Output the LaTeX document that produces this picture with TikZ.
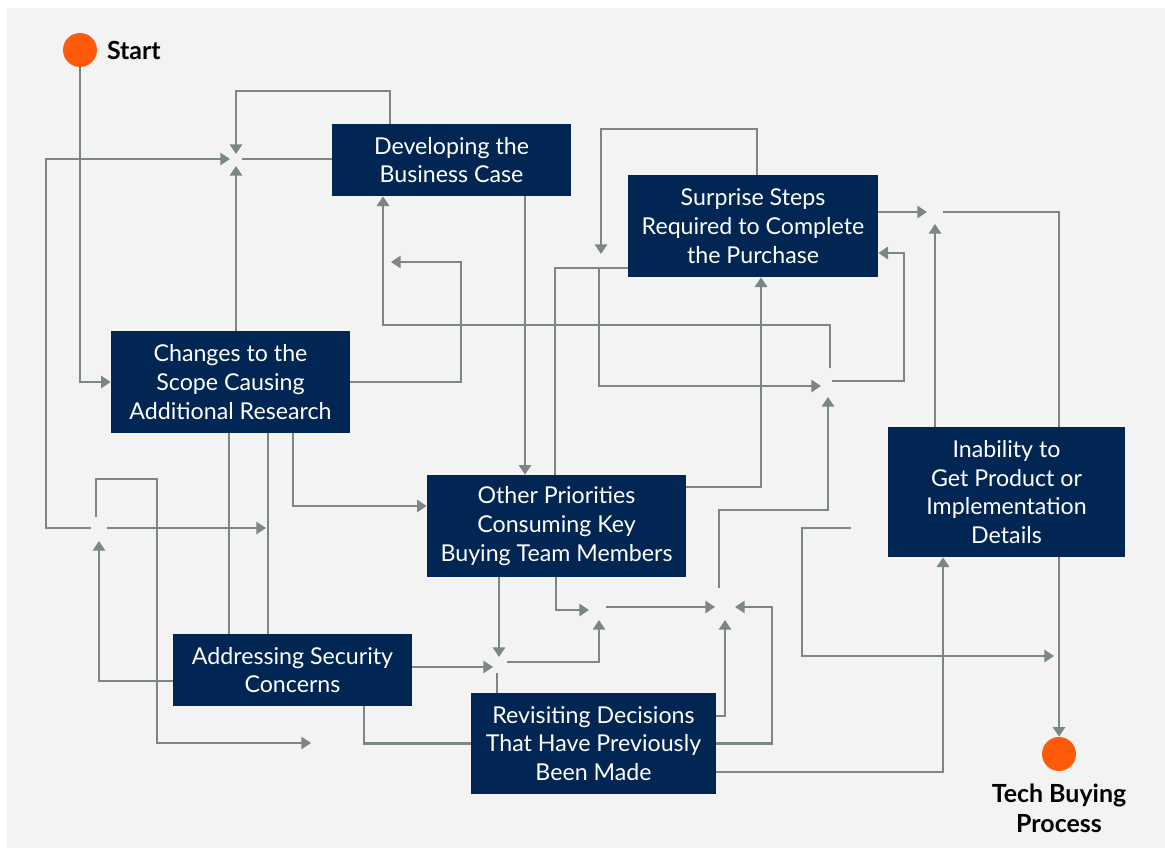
\documentclass[tikz,border=0pt]{standalone}
\usepackage{fontspec}
\setmainfont{Lato}
\usetikzlibrary{arrows.meta,positioning}
\definecolor{navy}{HTML}{012654}
\definecolor{wire}{HTML}{7B8685}
\definecolor{dot}{HTML}{FF5A0A}
\definecolor{paper}{HTML}{F3F3F3}
\begin{document}
\begin{tikzpicture}[x=0.02cm, y=-0.02cm,
  box/.style={fill=navy, text=white, align=center, inner sep=0pt,
    font=\fontsize{13.2}{16.4}\selectfont},
  link/.style={draw=wire, line width=1.2pt},
  flow/.style={link, -{Triangle[length=5.5pt,width=7pt]}},
  dotc/.style={circle, fill=dot, minimum size=0.68cm, inner sep=0pt},
  lbl/.style={font=\fontsize{14.2}{17}\selectfont\bfseries, align=center}]
\useasboundingbox (0,0) rectangle (1165,848);
\fill[white] (0,0) rectangle (1165,848);
\fill[paper] (7,8) rectangle (1165,848);
% Start and end
\node[dotc] (start) at (80,50) {};
\node[lbl, right=2pt of start] (startlbl) {Start};
\node[dotc] (endc) at (1059,754) {};
\node[lbl, below=3.5pt of endc] (endlbl) {Tech Buying\\Process};
% Boxes
\node[box, minimum width=4.78cm, minimum height=1.44cm] (dev) at (451.5,160) {Developing the\\Business Case};
\node[box, minimum width=5cm, minimum height=2.04cm] (surp) at (753,226) {Surprise Steps\\Required to Complete\\the Purchase};
\node[box, minimum width=4.78cm, minimum height=2.04cm] (chg) at (230.5,382) {Changes to the\\Scope Causing\\Additional Research};
\node[box, minimum width=5.18cm, minimum height=2.04cm] (oth) at (556.5,526) {Other Priorities\\Consuming Key\\Buying Team Members};
\node[box, minimum width=4.74cm, minimum height=2.6cm] (inab) at (1006.5,492) {Inability to\\Get Product or\\Implementation\\Details};
\node[box, minimum width=4.78cm, minimum height=1.44cm] (addr) at (292.5,670) {Addressing Security\\Concerns};
\node[box, minimum width=4.9cm, minimum height=2.02cm] (rev) at (593.5,743.5) {Revisiting Decisions\\That Have Previously\\Been Made};
% Crossings
\coordinate (jA) at (236,159);
\coordinate (jB) at (98,528);
\coordinate (jC) at (826,384);
\coordinate (jD) at (935,212);
\coordinate (jE) at (498,663);
\coordinate (jF) at (598,608);
\coordinate (jG) at (723,607);
% Loose ends
\coordinate (tipA) at (391,262);
\coordinate (tipB) at (601,254);
\coordinate (fork) at (599,268);
\coordinate (tipC) at (1054,656);
\coordinate (freeS) at (851,528);
\coordinate (tipD) at (311,743);
\coordinate (tipE) at (266,528);
% Upper part
\draw[flow] (start.south) |- (chg.west);
\draw[flow] (390,0 |- dev.north) |- (236,91) -- ([shift={(0,-5)}]jA);
\draw[flow] ([shift={(-7,0)}]jB) -| (46,159) -- ([shift={(-6,0)}]jA);
\draw[flow] (jA |- chg.north) -- ([shift={(0,7)}]jA);
\draw[link] ([shift={(6,0)}]jA) -- (dev.west |- jA);
\draw[flow] ([shift={(4,-16)}]jC) |- (383,325) -- (383,0 |- dev.south);
\draw[flow] (chg.east) -| (461,262) -- (tipA);
\draw[flow] (525,0 |- dev.south) -- (525,0 |- oth.north);
\draw[link] (555,0 |- oth.north) |- (surp.west |- fork);
\draw[flow] (757,0 |- surp.north) |- (601,129) -- (tipB);
\draw[flow] (fork) |- ([shift={(-5,2)}]jC);
\draw[flow] ([shift={(6,-3)}]jC) -| (904,253) -- (surp.east |- 904,253);
\draw[flow] (surp.east |- jD) -- ([shift={(-8,0)}]jD);
\draw[flow] (jD |- inab.north) -- ([shift={(0,12)}]jD);
\draw[link] ([shift={(8,0)}]jD) -| (1059,0 |- inab.north);
\draw[flow] (1059,0 |- inab.south) -- (endc.north);
\draw[flow] (oth.east |- 0,487) -| (761,0 |- surp.south);
\draw[flow] ([shift={(-4,-19)}]jG) |- (828,510) -- ([shift={(2,13)}]jC);
% Lower part
\draw[flow] (499,0 |- oth.south) -- ([shift={(1,-6)}]jE);
\draw[flow] (addr.east |- 0,667) -- ([shift={(-5,4)}]jE);
\draw[flow] ([shift={(9,-1)}]jE) -| ([shift={(1,12)}]jF);
\draw[link] ([shift={(-1,10)}]jE) -- (497,0 |- rev.north);
\draw[flow] (556,0 |- oth.south) |- ([shift={(-9,2)}]jF);
\draw[flow] ([shift={(8,-1)}]jF) -- ([shift={(-8,0)}]jG);
\draw[flow] (rev.east |- 0,716) -| ([shift={(2,13)}]jG);
\draw[flow] (rev.east) -| (772,607) -- ([shift={(12,0)}]jG);
\draw[flow] (rev.east |- 0,772) -| (943,0 |- inab.south);
\draw[flow] (freeS) -| (802,656) -- (tipC);
\draw[link] (364,0 |- addr.south) |- (rev.west);
\draw[flow] (addr.west |- 0,681) -| ([shift={(1,13)}]jB);
\draw[flow] ([shift={(-2,-11)}]jB) |- (157,479) |- (tipD);
\draw[flow] ([shift={(9,0)}]jB) -- (tipE);
\draw[link] (229,0 |- chg.south) -- (229,0 |- addr.north);
\draw[link] (268,0 |- chg.south) -- (268,0 |- addr.north);
\draw[flow] (293,0 |- chg.south) |- (oth.west |- 0,506);
\end{tikzpicture}
\end{document}
